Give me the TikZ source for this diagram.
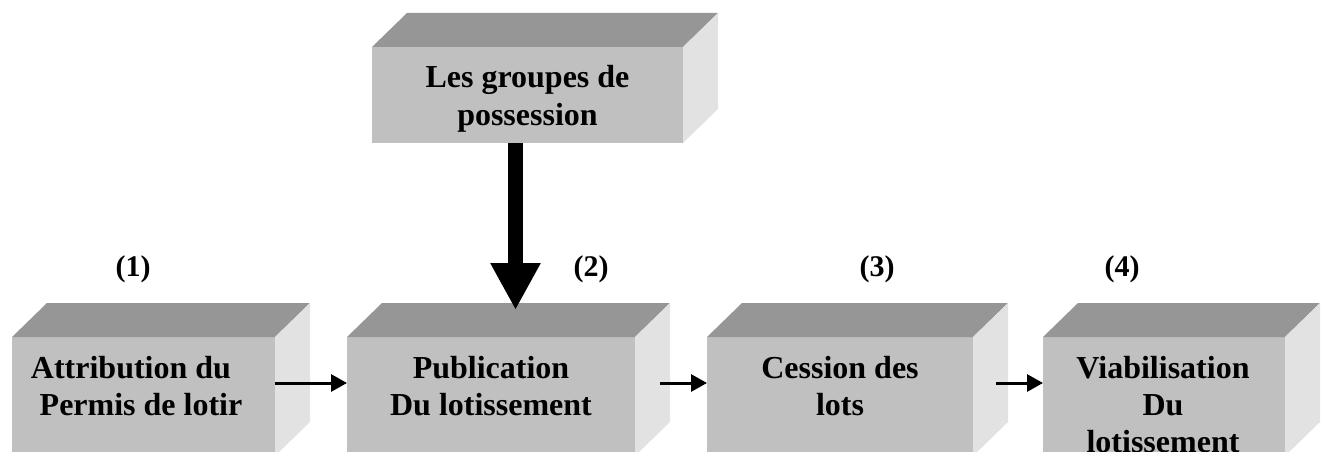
\documentclass[tikz,border=0pt]{standalone}
\usepackage{fontspec}
\setmainfont{Liberation Serif}
\usetikzlibrary{arrows.meta,calc}
\definecolor{frontgray}{RGB}{192,192,192}
\definecolor{topgray}{RGB}{150,150,150}
\definecolor{sidegray}{RGB}{226,226,226}
\begin{document}
\begin{tikzpicture}[x=1pt,y=-1pt,
  boxfront/.style={fill=frontgray, draw=none, inner sep=0pt, outer sep=0pt,
                   anchor=north west, minimum height=#1},
  boxfront/.default=119,
  boxtext/.style={inner sep=0pt, anchor=base,
                  font=\fontsize{32}{37}\selectfont\bfseries},
  steplabel/.style={inner sep=0pt, anchor=base,
                    font=\fontsize{30}{36}\selectfont\bfseries},
  flow/.style={-{Triangle[length=16pt,width=17pt]}, line width=3pt},
  bigflow/.style={-{Triangle[length=47pt,width=47pt]}, line width=15pt}
]
\useasboundingbox (0,0) rectangle (1322,452);
\clip (0,0) rectangle (1322,452);

% front faces of the blocks
\node[boxfront=96, minimum width=311] (top) at (372,47) {};
\node[boxfront, minimum width=263] (b1) at (12,337) {};
\node[boxfront, minimum width=288] (b2) at (347,337) {};
\node[boxfront, minimum width=266] (b3) at (707,337) {};
\node[boxfront, minimum width=242] (b4) at (1043,337) {};

% top and right faces giving the blocks their depth
\foreach \n in {top,b1,b2,b3,b4} {
  \fill[topgray] (\n.north west) -- ++(35,-34) -- ($(\n.north east)+(35,-34)$)
    -- (\n.north east) -- cycle;
  \fill[sidegray] (\n.north east) -- ++(35,-34) -- ($(\n.south east)+(35,-34)$)
    -- (\n.south east) -- cycle;
}

% block texts
\node[boxtext] (ttop) at (527.5,88)
  {\begin{tabular}[t]{@{}c@{}}Les groupes de\\possession\end{tabular}};
\node[boxtext] (t1) at (136,378)
  {\begin{tabular}[t]{@{}c@{}}Attribution du\hspace*{10pt}\\\hspace*{10pt}Permis de lotir\end{tabular}};
\node[boxtext] (t2) at (491,378)
  {\begin{tabular}[t]{@{}c@{}}Publication\\Du lotissement\end{tabular}};
\node[boxtext] (t3) at (840,378)
  {\begin{tabular}[t]{@{}c@{}}Cession des\\lots\end{tabular}};
\node[boxtext] (t4) at (1163,378)
  {\begin{tabular}[t]{@{}c@{}}Viabilisation\\Du\\lotissement\end{tabular}};

% step numbers
\node[steplabel] (n1) at (133,276) {(1)};
\node[steplabel] (n2) at (591,276) {(2)};
\node[steplabel] (n3) at (877,276) {(3)};
\node[steplabel] (n4) at (1122,276) {(4)};

% connectors
\draw[flow] ($(b1.north east)+(0,46)$) -- ($(b2.north west)+(0,46)$);
\draw[flow] ($(b2.north east)+(25,46)$) -- ($(b3.north west)+(0,46)$);
\draw[flow] ($(b3.north east)+(23,46)$) -- ($(b4.north west)+(0,46)$);
\coordinate (bigend) at ($(b2.north)+(24.5,-27)$);
\draw[bigflow] ($(top.south)+(-12,0)$) -- (bigend);
\end{tikzpicture}
\end{document}
